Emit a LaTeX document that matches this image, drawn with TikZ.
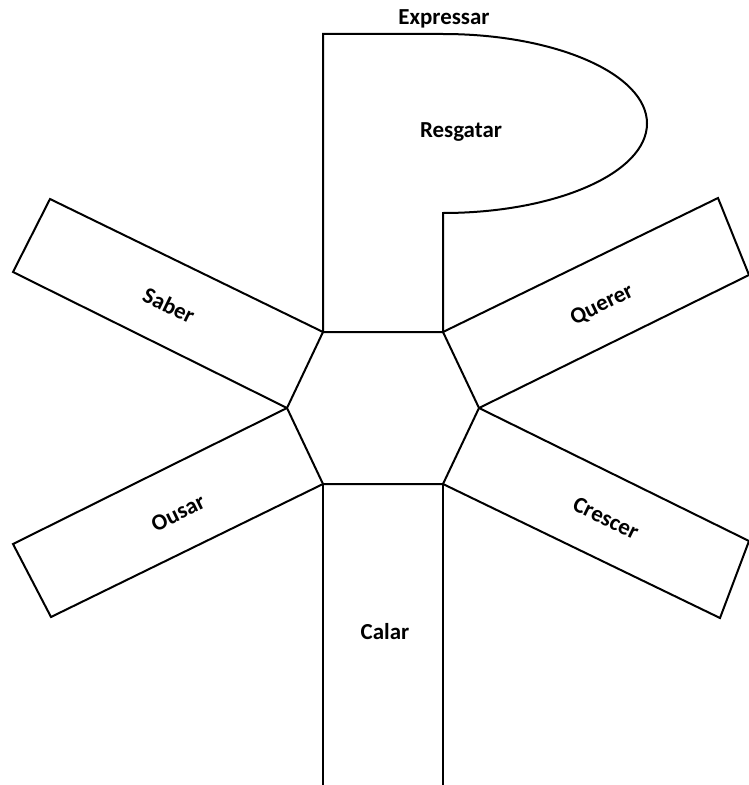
\documentclass[tikz,border=0pt]{standalone}
\usepackage{fontspec}
\setmainfont{Carlito}
\tikzset{
  edge/.style={draw=black, line width=2bp, line join=miter},
  word/.style={font=\bfseries\fontsize{23}{27}\selectfont, inner sep=0pt},
}
\begin{document}
\begin{tikzpicture}[x=1bp, y=-1bp]
\useasboundingbox (0,0) rectangle (749,785);

% ---------------- hexagon ----------------
\coordinate (h1) at (323,332);
\coordinate (h2) at (443,332);
\coordinate (h3) at (479,408);
\coordinate (h4) at (443,484);
\coordinate (h5) at (323,484);
\coordinate (h6) at (287,408);
\draw[edge] (h1) -- (h2) -- (h3) -- (h4) -- (h5) -- (h6) -- cycle;

% ---------------- top: P shape ----------------
\draw[edge] (h1) -- (323,34) -- (443,34)
  arc[start angle=-90, end angle=90, x radius=204, y radius=89.5] -- (h2);

% ---------------- arms ----------------
\draw[edge] (h1) -- (50,199) -- (13,272) -- (h6);
\draw[edge] (h2) -- (718,198) -- (749,275) -- (h3);
\draw[edge] (h6) -- (13,544) -- (51,617) -- (h5);
\draw[edge] (h3) -- (749,541) -- (720,618) -- (h4);
\draw[edge] (h5) -- (323,785);
\draw[edge] (h4) -- (443,785);

% ---------------- labels ----------------
\node[word] (expressar) at (444,19) {Expressar};
\node[word] (resgatar) at (461,132) {Resgatar};
\node[word, rotate=-26] (saber) at (169,305) {Saber};
\node[word, rotate=26] (querer) at (602,305) {Querer};
\node[word, rotate=26] (ousar) at (178,513) {Ousar};
\node[word, rotate=-26] (crescer) at (606,518) {Crescer};
\node[word] (calar) at (385,632) {Calar};

\end{tikzpicture}
\end{document}
